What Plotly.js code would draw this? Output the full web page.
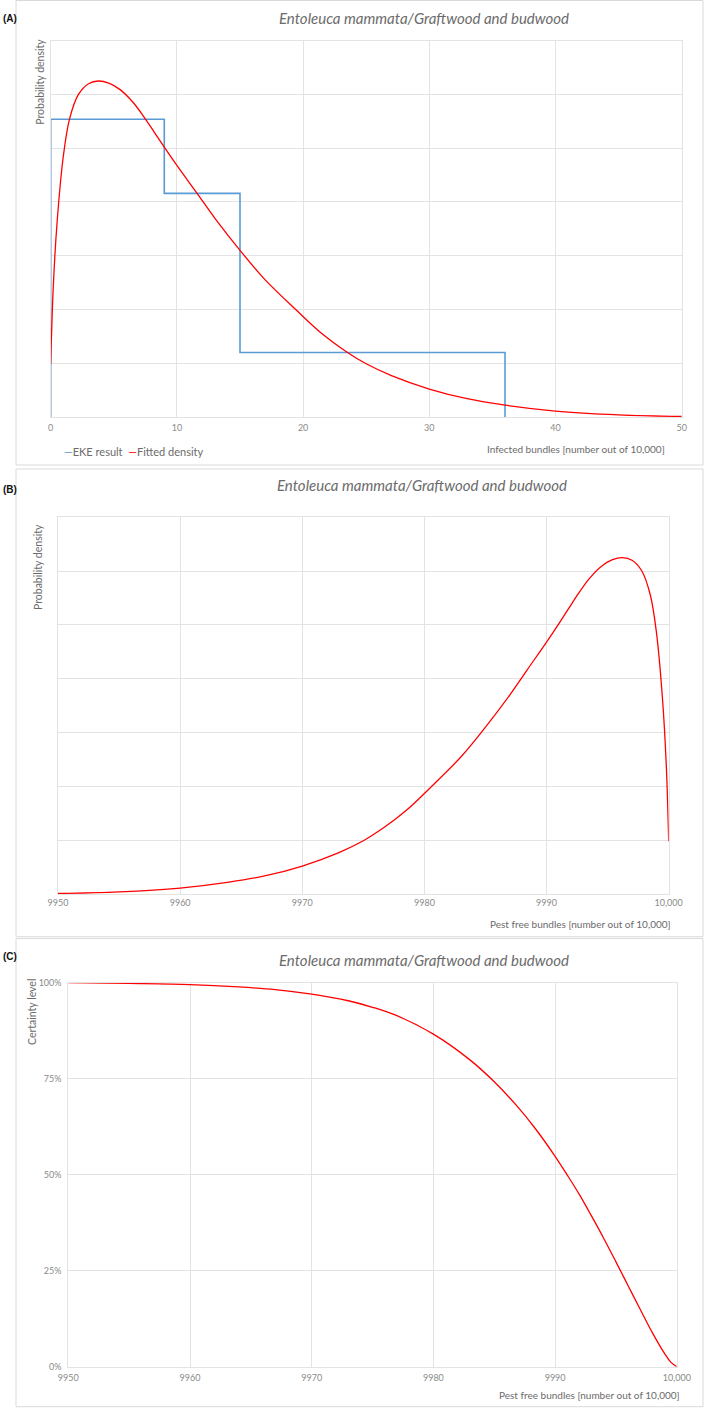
<!DOCTYPE html>
<html>
<head>
<meta charset="utf-8">
<script src="https://cdn.plot.ly/plotly-3.0.1.min.js"></script>
<style>
  body { margin: 0; background: #fff; }
  #chart { width: 709px; height: 1408px; }
</style>
</head>
<body>
<div id="chart"></div>
<script>
// ---- data ----
var chartTitle = "Entoleuca mammata/Graftwood and budwood"

// (A) EKE result: bin edges and densities
var ekeEdges = [0, 9, 15, 36]
var ekeDensity = [0.0554, 0.0416, 0.0120]

// (A) fitted density over infected bundles
var infectedX = [0, 0.2, 0.5, 1, 1.5, 2.2, 3, 3.8, 4.6, 5.5, 6.5, 7.4, 8.2, 9, 10, 11.6, 13, 15, 17, 19.5, 21.5, 23.4, 25, 27, 30, 33, 36, 40, 45, 50]
var infectedDensity = [0.0098, 0.0240, 0.0360, 0.0485, 0.0555, 0.0600, 0.0620, 0.0625, 0.0621, 0.0609, 0.0586, 0.0558, 0.0530, 0.0502, 0.0468, 0.0416, 0.0370, 0.0310, 0.0255, 0.0198, 0.0155, 0.0122, 0.0099, 0.0077, 0.0052, 0.0034, 0.0022, 0.0011, 0.0004, 0.0001]

// (B) fitted density over pest free bundles
var pestFreeX = [9950, 9955, 9960, 9964, 9967, 9970, 9973, 9975, 9976.6, 9978.5, 9980.5, 9983, 9985, 9987, 9988.4, 9990, 9991, 9991.8, 9992.6, 9993.5, 9994.5, 9995.4, 9996.2, 9997, 9997.8, 9998.5, 9999, 9999.5, 9999.8, 10000]
var pestFreeDensity = [0.0001, 0.0004, 0.0011, 0.0022, 0.0034, 0.0052, 0.0077, 0.0099, 0.0122, 0.0155, 0.0198, 0.0255, 0.0310, 0.0370, 0.0416, 0.0468, 0.0502, 0.0530, 0.0558, 0.0586, 0.0609, 0.0621, 0.0625, 0.0620, 0.0600, 0.0555, 0.0485, 0.0360, 0.0240, 0.0098]

// (C) certainty level (%)
var certaintyX = [9950, 9955, 9960, 9964, 9967, 9970, 9973, 9975, 9977, 9980, 9983, 9985, 9987, 9988.4, 9990, 9991, 9992, 9993, 9994, 9995, 9996, 9997, 9998, 9999, 9999.5, 10000]
var certaintyPct = [100, 99.8, 99.5, 98.9, 98.2, 97.0, 95.3, 93.6, 91.4, 86.6, 79.9, 74.2, 67.4, 61.9, 54.8, 49.9, 44.8, 39.2, 33.4, 27.3, 21.1, 14.9, 8.8, 3.4, 1.2, 0]

// tick labels
var infectedTicks = [0, 10, 20, 30, 40, 50]
var pestFreeTicks = [9950, 9960, 9970, 9980, 9990, 10000]
var pestFreeTickText = ["9950", "9960", "9970", "9980", "9990", "10,000"]
var certaintyTicks = [0, 25, 50, 75, 100]
var certaintyTickText = ["0%", "25%", "50%", "75%", "100%"]

// ---- page geometry (pixels) ----
var W = 709, H = 1408
function px(x){ return x / W }
function py(y){ return 1 - y / H }

var FONT = "Lato, 'Open Sans', sans-serif"
var GRID = "#E3E3E3"
var TICKCOL = "#8A8A8A"
var TEXTCOL = "#6B6B6B"
var RED = "#FF0000"
var BLUE = "#5B9BD5"

// step outline for the EKE bins
var stepX = [ekeEdges[0]], stepY = [0]
for (var i = 0; i < ekeDensity.length; i++){
    stepX.push(ekeEdges[i])
    stepY.push(ekeDensity[i])
}
stepX.push(ekeEdges[ekeEdges.length-1])
stepY.push(0)

var redLine = {shape: 'spline', smoothing: 1, color: RED, width: 1.3}
var traces = [
    {x: stepX, y: stepY, xaxis: 'x', yaxis: 'y', mode: 'lines', line: {shape: 'hv', color: BLUE, width: 1.6}, name: 'EKE result'},
    {x: infectedX, y: infectedDensity, xaxis: 'x', yaxis: 'y', mode: 'lines', line: redLine, name: 'Fitted density'},
    {x: pestFreeX, y: pestFreeDensity, xaxis: 'x2', yaxis: 'y2', mode: 'lines', line: redLine, name: 'Fitted density'},
    {x: certaintyX, y: certaintyPct, xaxis: 'x3', yaxis: 'y3', mode: 'lines', line: redLine, name: 'Certainty'}
]

function xax(domain, range, tickvals, ticktext, anchor){
    var a = {
        domain: domain, range: range, anchor: anchor,
        tickvals: tickvals, ticks: '', showgrid: true, gridcolor: GRID, gridwidth: 1,
        zeroline: false, showline: true, mirror: true, linecolor: GRID, linewidth: 1,
        tickfont: {family: FONT, size: 9, color: TICKCOL}, fixedrange: true
    }
    if (ticktext) a.ticktext = ticktext
    return a
}
function yax(domain, range, dtick, labels, anchor){
    return {
        domain: domain, range: range, anchor: anchor, dtick: dtick, tick0: 0,
        showticklabels: labels, ticks: '', showgrid: true, gridcolor: GRID, gridwidth: 1,
        zeroline: false, showline: true, mirror: true, linecolor: GRID, linewidth: 1,
        tickfont: {family: FONT, size: 9, color: TICKCOL}, fixedrange: true
    }
}

var layout = {
    width: W, height: H,
    margin: {l: 0, r: 0, t: 0, b: 0},
    paper_bgcolor: '#fff', plot_bgcolor: '#fff',
    showlegend: false,
    font: {family: FONT, color: TEXTCOL},
    xaxis: xax([px(50.7), px(681.7)], [0, 50], infectedTicks, null, 'y'),
    yaxis: yax([py(417), py(40.7)], [0, 0.07], 0.01, false, 'x'),
    xaxis2: xax([px(58), px(668.7)], [9950, 10000], pestFreeTicks, pestFreeTickText, 'y2'),
    yaxis2: yax([py(894), py(517.2)], [0, 0.07], 0.01, false, 'x2'),
    xaxis3: xax([px(68.3), px(676.8)], [9950, 10000], pestFreeTicks, pestFreeTickText, 'y3'),
    yaxis3: yax([py(1366.7), py(982.7)], [0, 100], 25, true, 'x3'),
    shapes: [],
    annotations: []
}
layout.yaxis3.tickvals = certaintyTicks
layout.yaxis3.ticktext = certaintyTickText
layout.yaxis3.ticklabelstandoff = 4
layout.xaxis.ticklabelstandoff = 2
layout.xaxis3.ticklabelstandoff = 2

// panel frames
var frames = [[16, 0.5, 703, 465], [16, 469, 703, 936.7], [16, 938.5, 703, 1406.7]]
frames.forEach(function(f){
    layout.shapes.push({type: 'rect', xref: 'paper', yref: 'paper',
        x0: px(f[0]), x1: px(f[2]), y0: py(f[3]), y1: py(f[1]),
        line: {color: '#DADADA', width: 1}, fillcolor: 'rgba(0,0,0,0)', layer: 'below'})
})

function note(text, x, y, opts){
    var a = {text: text, xref: 'paper', yref: 'paper', x: px(x), y: py(y),
        showarrow: false, xanchor: 'center', yanchor: 'middle',
        font: {family: FONT, size: 10, color: TEXTCOL}}
    for (var k in opts) a[k] = opts[k]
    layout.annotations.push(a)
}

// panel letters
var letters = [["(A)", 18.3], ["(B)", 489], ["(C)", 956.7]]
letters.forEach(function(l){
    note('<b>' + l[0] + '</b>', 0.5, l[1], {xanchor: 'left', font: {family: 'Liberation Sans, Arial, sans-serif', size: 10, color: '#111'}})
})

// titles
note('<i>' + chartTitle + '</i>', 424, 18.3, {font: {family: FONT, size: 15, color: TEXTCOL}})
note('<i>' + chartTitle + '</i>', 422, 485, {font: {family: FONT, size: 15, color: TEXTCOL}})
note('<i>' + chartTitle + '</i>', 424, 960, {font: {family: FONT, size: 15, color: TEXTCOL}})

// axis titles
note('Probability density', 40, 36.7, {textangle: -90, yanchor: 'top', font: {family: FONT, size: 10.5, color: TEXTCOL}})
note('Probability density', 38, 522, {textangle: -90, yanchor: 'top', font: {family: FONT, size: 10.5, color: TEXTCOL}})
note('Certainty level', 32, 977, {textangle: -90, yanchor: 'top', font: {family: FONT, size: 10.5, color: TEXTCOL}})

note('Infected bundles [number out of 10,000]', 667, 448.7, {xanchor: 'right', font: {family: FONT, size: 10, color: TEXTCOL}})
note('Pest free bundles [number out of 10,000]', 673.4, 924, {xanchor: 'right', font: {family: FONT, size: 10, color: TEXTCOL}})
note('Pest free bundles [number out of 10,000]', 681.7, 1395, {xanchor: 'right', font: {family: FONT, size: 10, color: TEXTCOL}})

// legend for panel A, drawn the way the original shows it
note('<span style="color:' + BLUE + '">—</span>EKE result  <span style="color:' + RED + '">—</span>Fitted density',
     62, 451, {xanchor: 'left', font: {family: FONT, size: 11, color: TEXTCOL}})

Plotly.newPlot('chart', traces, layout, {displayModeBar: false, staticPlot: true})
</script>
</body>
</html>
